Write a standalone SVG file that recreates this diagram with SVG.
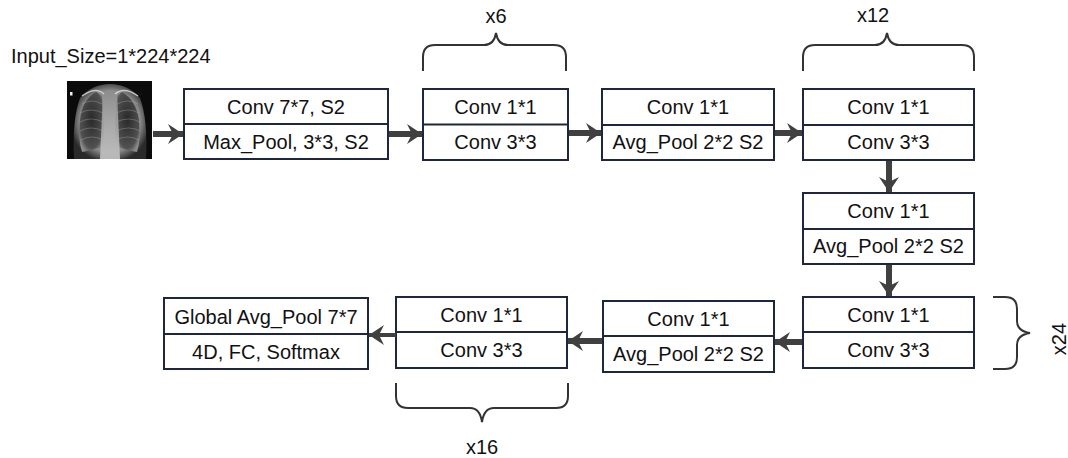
<svg xmlns="http://www.w3.org/2000/svg" width="1068" height="458" viewBox="0 0 1068 458">
<defs>
<style>
.box{fill:#fff;stroke:#1f2740;stroke-width:2}
.div{stroke:#1f2740;stroke-width:2}
.t{font-family:"Liberation Sans",Arial,sans-serif;font-size:20px;fill:#111;text-anchor:middle}
.lbl{font-family:"Liberation Sans",Arial,sans-serif;font-size:20px;fill:#111}
.arr{stroke:#404040;stroke-width:6;fill:none;marker-end:url(#ah)}
.arr2{stroke:#404040;stroke-width:4;fill:none;marker-end:url(#ah)}
.brace{stroke:#333;stroke-width:2;fill:none}
.rib{stroke:#b0b0b0;stroke-width:1.2;fill:none;opacity:0.35}
</style>
<marker id="ah" markerUnits="userSpaceOnUse" markerWidth="16" markerHeight="22" refX="15" refY="11" orient="auto">
<path d="M0,1 L15,11 L0,21 L5,11 Z" fill="#404040"/>
</marker>
<radialGradient id="body" cx="0.5" cy="0.5" r="0.55">
<stop offset="0" stop-color="#b8b8b8"/>
<stop offset="0.75" stop-color="#8a8a8a"/>
<stop offset="1" stop-color="#2a2a2a"/>
</radialGradient>
<radialGradient id="lung" cx="0.5" cy="0.45" r="0.6">
<stop offset="0" stop-color="#2a2a2a"/>
<stop offset="0.8" stop-color="#505050"/>
<stop offset="1" stop-color="#8a8a8a"/>
</radialGradient>
<linearGradient id="med" x1="0" y1="0" x2="0" y2="1">
<stop offset="0" stop-color="#8c8c8c"/>
<stop offset="1" stop-color="#c4c4c4"/>
</linearGradient>
<clipPath id="xc"><rect x="67" y="81" width="85" height="78"/></clipPath>
</defs>

<text class="lbl" x="11" y="63">Input_Size=1*224*224</text>

<g id="xray" clip-path="url(#xc)">
<rect x="67" y="81" width="85" height="78" fill="#0b0b0b"/>
<path d="M74,159 Q72,120 80,98 Q92,84 110,84 Q128,84 140,98 Q148,120 146,159 Z" fill="url(#body)"/>
<path d="M96,92 Q82,100 80,120 Q78,140 82,152 Q94,150 104,146 Q104,118 102,96 Z" fill="url(#lung)"/>
<path d="M122,92 Q136,100 139,120 Q141,140 137,152 Q125,150 115,146 Q115,118 117,96 Z" fill="url(#lung)"/>
<path d="M103,92 Q110,88 117,92 L120,159 L100,159 Z" fill="url(#med)" opacity="0.9"/>
<path class="rib" d="M82,104 Q92,98 102,104 M117,104 Q128,98 138,104"/>
<path class="rib" d="M80,113 Q91,107 103,113 M116,113 Q129,107 139,113"/>
<path class="rib" d="M80,122 Q91,116 103,122 M116,122 Q129,116 140,122"/>
<path class="rib" d="M80,131 Q91,125 103,131 M116,131 Q129,125 140,131"/>
<path class="rib" d="M81,140 Q92,134 103,140 M116,140 Q128,134 139,140"/>
<path d="M82,96 Q96,86 104,94 M115,94 Q124,86 138,96" stroke="#e0e0e0" stroke-width="1.5" fill="none" opacity="0.8"/>
<rect x="70" y="92" width="2.5" height="3.5" fill="#f0f0f0"/>
</g>

<g id="n1">
<rect class="box" x="184" y="89" width="204" height="70"/>
<line class="div" x1="184" y1="124" x2="388" y2="124"/>
<text class="t" x="286" y="113.5">Conv 7*7, S2</text>
<text class="t" x="286" y="148.5">Max_Pool, 3*3, S2</text>
</g>

<g id="n2">
<rect class="box" x="423" y="89" width="145" height="71"/>
<line class="div" x1="423" y1="124.5" x2="568" y2="124.5"/>
<text class="t" x="495.5" y="114">Conv 1*1</text>
<text class="t" x="495.5" y="149">Conv 3*3</text>
</g>

<g id="n3">
<rect class="box" x="602" y="89" width="172" height="71"/>
<line class="div" x1="602" y1="125" x2="774" y2="125"/>
<text class="t" x="688" y="114">Conv 1*1</text>
<text class="t" x="688" y="149">Avg_Pool 2*2 S2</text>
</g>

<g id="n4">
<rect class="box" x="803" y="89" width="171" height="71"/>
<line class="div" x1="803" y1="125" x2="974" y2="125"/>
<text class="t" x="888.5" y="114">Conv 1*1</text>
<text class="t" x="888.5" y="149">Conv 3*3</text>
</g>

<g id="n5">
<rect class="box" x="803" y="193" width="171" height="71"/>
<line class="div" x1="803" y1="229" x2="974" y2="229"/>
<text class="t" x="888.5" y="218">Conv 1*1</text>
<text class="t" x="888.5" y="253">Avg_Pool 2*2 S2</text>
</g>

<g id="n6">
<rect class="box" x="803" y="297" width="171" height="71"/>
<line class="div" x1="803" y1="332" x2="974" y2="332"/>
<text class="t" x="888.5" y="322">Conv 1*1</text>
<text class="t" x="888.5" y="357">Conv 3*3</text>
</g>

<g id="n7">
<rect class="box" x="603" y="301" width="171" height="71"/>
<line class="div" x1="603" y1="336" x2="774" y2="336"/>
<text class="t" x="688.5" y="326">Conv 1*1</text>
<text class="t" x="688.5" y="361">Avg_Pool 2*2 S2</text>
</g>

<g id="n8">
<rect class="box" x="396" y="297" width="171" height="71"/>
<line class="div" x1="396" y1="332" x2="567" y2="332"/>
<text class="t" x="481.5" y="322">Conv 1*1</text>
<text class="t" x="481.5" y="357">Conv 3*3</text>
</g>

<g id="n9">
<rect class="box" x="164" y="298" width="204" height="71"/>
<line class="div" x1="164" y1="334" x2="368" y2="334"/>
<text class="t" x="266" y="323.5">Global Avg_Pool 7*7</text>
<text class="t" x="266" y="359">4D, FC, Softmax</text>
</g>

<g id="connectors">
<line class="arr" x1="153" y1="134" x2="183" y2="134"/>
<line class="arr" x1="389" y1="134" x2="422" y2="134"/>
<line class="arr" x1="569" y1="133" x2="601" y2="133"/>
<line class="arr" x1="775" y1="133" x2="802" y2="133"/>
<line class="arr" x1="889" y1="161" x2="889" y2="192"/>
<line class="arr" x1="889" y1="265" x2="889" y2="296"/>
<line class="arr" x1="802" y1="342" x2="775" y2="342"/>
<line class="arr" x1="602" y1="341" x2="568" y2="341"/>
<line class="arr2" x1="396" y1="335" x2="369" y2="335"/>
</g>

<g id="braces">
<path class="brace" d="M423,71 V57 Q423,45 435,45 H484 Q494,45 496,33 Q498,45 508,45 H554 Q566,45 566,57 V71"/>
<text class="t" x="496" y="23">x6</text>
<path class="brace" d="M803,71 V57 Q803,45 815,45 H875 Q885,45 887,33 Q889,45 899,45 H962 Q974,45 974,57 V71"/>
<text class="t" x="873" y="22">x12</text>
<path class="brace" d="M993,297 H1005 Q1017,297 1017,309 V321 Q1017,331 1030,333 Q1017,335 1017,345 V357 Q1017,369 1005,369 H993"/>
<text class="t" transform="translate(1066,339) rotate(-90)">x24</text>
<path class="brace" d="M396,383 V396 Q396,408 408,408 H470 Q480,408 482,422 Q484,408 494,408 H556 Q568,408 568,396 V383"/>
<text class="t" x="482" y="454">x16</text>
</g>
</svg>
